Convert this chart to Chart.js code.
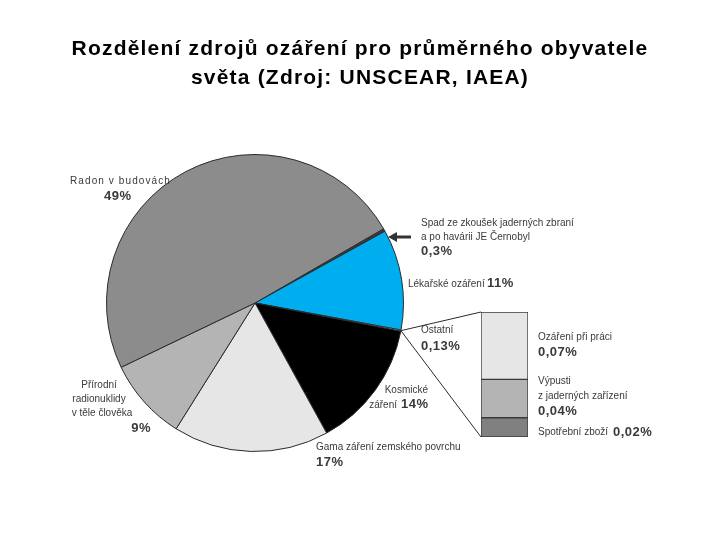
<!DOCTYPE html>
<html>
<head>
<meta charset="utf-8">
<script src="https://cdn.jsdelivr.net/npm/chart.js@4/dist/chart.umd.min.js"></script>
<style>
  html, body { margin: 0; padding: 0; background: #fff; }
  #wrap { position: relative; width: 720px; height: 540px; }
  canvas { position: absolute; left: 0; top: 0; }
</style>
</head>
<body>
<div id="wrap">
  <canvas id="pie" width="720" height="540"></canvas>
  <canvas id="bar" width="720" height="540"></canvas>
</div>
<script>
// ---- data ----
const titleLines = ['Rozdělení zdrojů ozáření pro průměrného obyvatele', 'světa (Zdroj: UNSCEAR, IAEA)'];

const pieCategories = [
  'Spad ze zkoušek jaderných zbraní a po havárii JE Černobyl',
  'Lékařské ozáření',
  'Ostatní',
  'Kosmické záření',
  'Gama záření zemského povrchu',
  'Přírodní radionuklidy v těle člověka',
  'Radon v budovách'
];
const pieValues = [0.3, 11, 0.13, 14, 17, 9, 49];
const pieValueLabels = ['0,3%', '11%', '0,13%', '14%', '17%', '9%', '49%'];

const otherCategories = ['Spotřební zboží', 'Výpusti z jaderných zařízení', 'Ozáření při práci'];
const otherValues = [0.02, 0.04, 0.07];
const otherValueLabels = ['0,02%', '0,04%', '0,07%'];

// ---- styles ----
const pieColors = ['#3c3c3c', '#00aeef', '#ffffff', '#000000', '#e6e6e6', '#b4b4b4', '#8c8c8c'];
const barColors = ['#808080', '#b4b4b4', '#e6e6e6'];
const smallFont = '10px "Liberation Sans", Arial, sans-serif';
const boldFont = 'bold 13px "Liberation Sans", Arial, sans-serif';
const textColor = '#3a3a3a';

// label layout: [lines of name], value label placement
const pieLabelLayout = [
  { lines: [['Spad ze zkoušek jaderných zbraní', 421, 223, 'left'], ['a po havárii JE Černobyl', 421, 237, 'left']], val: [421, 251, 'left'] },
  { lines: [['Lékařské ozáření', 408, 284, 'left']], val: [487, 283, 'left'] },
  { lines: [['Ostatní', 421, 330, 'left']], val: [421, 346, 'left'] },
  { lines: [['Kosmické', 428, 390, 'right'], ['záření', 397, 405, 'right']], val: [401, 404, 'left'] },
  { lines: [['Gama záření zemského povrchu', 316, 447, 'left']], val: [316, 462, 'left'] },
  { lines: [['Přírodní', 99, 385, 'center'], ['radionuklidy', 99, 399, 'center'], ['v těle člověka', 102, 413, 'center']], val: [151, 428, 'right'] },
  { lines: [['Radon v budovách', 70, 181, 'left']], val: [104, 196, 'left'], spacing: '1.1px' }
];
const barLabelLayout = [
  { lines: [['Spotřební zboží', 538, 432, 'left']], val: [613, 432, 'left'] },
  { lines: [['Výpusti', 538, 381, 'left'], ['z jaderných zařízení', 538, 396, 'left']], val: [538, 411, 'left'] },
  { lines: [['Ozáření při práci', 538, 337, 'left']], val: [538, 352, 'left'] }
];

function drawLabel(ctx, layout, valueText) {
  ctx.textBaseline = 'middle';
  ctx.fillStyle = textColor;
  ctx.font = smallFont;
  ctx.letterSpacing = layout.spacing || '0px';
  layout.lines.forEach(([t, x, y, a]) => { ctx.textAlign = a; ctx.fillText(t, x, y); });
  ctx.font = boldFont;
  ctx.letterSpacing = '0.5px';
  ctx.textAlign = layout.val[2];
  ctx.fillText(valueText, layout.val[0], layout.val[1]);
  ctx.letterSpacing = '0px';
}

const pieLabelsPlugin = {
  id: 'pieLabels',
  afterDraw(chart) {
    const ctx = chart.ctx;
    ctx.save();
    // title
    ctx.fillStyle = '#000';
    ctx.font = 'bold 21px "Liberation Sans", Arial, sans-serif';
    ctx.textAlign = 'center';
    ctx.textBaseline = 'alphabetic';
    ctx.letterSpacing = '1.2px';
    ctx.fillText(titleLines[0], 360, 55);
    ctx.fillText(titleLines[1], 360, 84);
    ctx.letterSpacing = '0px';
    pieLabelLayout.forEach((l, i) => drawLabel(ctx, l, pieValueLabels[i]));
    // arrow pointing at fallout slice
    ctx.strokeStyle = '#333';
    ctx.fillStyle = '#333';
    ctx.lineWidth = 3;
    ctx.beginPath();
    ctx.moveTo(411, 237);
    ctx.lineTo(395, 237);
    ctx.stroke();
    ctx.beginPath();
    ctx.moveTo(388, 237);
    ctx.lineTo(397, 232);
    ctx.lineTo(397, 242);
    ctx.closePath();
    ctx.fill();
    ctx.restore();
  }
};

const pieChart = new Chart(document.getElementById('pie'), {
  type: 'pie',
  data: {
    labels: pieCategories,
    datasets: [{
      data: pieValues,
      backgroundColor: pieColors,
      borderColor: '#2a2a2a',
      borderWidth: 1
    }]
  },
  options: {
    responsive: false,
    animation: false,
    rotation: 60,
    layout: { padding: { left: 106, top: 154, right: 316, bottom: 88 } },
    plugins: { legend: { display: false }, tooltip: { enabled: false }, title: { display: false } }
  },
  plugins: [pieLabelsPlugin]
});

const connectorPlugin = {
  id: 'connector',
  afterDatasetsDraw(chart) {
    const ctx = chart.ctx;
    const arc = pieChart.getDatasetMeta(0).data[2];
    const mid = (arc.startAngle + arc.endAngle) / 2;
    const px = arc.x + Math.cos(mid) * arc.outerRadius;
    const py = arc.y + Math.sin(mid) * arc.outerRadius;
    const topBar = chart.getDatasetMeta(otherValues.length - 1).data[0];
    const botBar = chart.getDatasetMeta(0).data[0];
    const left = topBar.x - topBar.width / 2;
    ctx.save();
    ctx.strokeStyle = '#2a2a2a';
    ctx.lineWidth = 1;
    ctx.beginPath();
    ctx.moveTo(px, py);
    ctx.lineTo(left, topBar.y);
    ctx.moveTo(px, py);
    ctx.lineTo(left, botBar.base);
    ctx.stroke();
    ctx.restore();
  },
  afterDraw(chart) {
    const ctx = chart.ctx;
    ctx.save();
    barLabelLayout.forEach((l, i) => drawLabel(ctx, l, otherValueLabels[i]));
    ctx.restore();
  }
};

new Chart(document.getElementById('bar'), {
  type: 'bar',
  data: {
    labels: [''],
    datasets: otherValues.map((v, i) => ({
      label: otherCategories[i],
      data: [v],
      backgroundColor: barColors[i],
      borderColor: '#3a3a3a',
      borderWidth: 1,
      borderSkipped: false,
      barPercentage: 1,
      categoryPercentage: 1
    }))
  },
  options: {
    responsive: false,
    animation: false,
    layout: { padding: { left: 481, right: 192, top: 312, bottom: 103 } },
    scales: {
      x: { display: false, stacked: true },
      y: { display: false, stacked: true, min: 0, max: 0.13 }
    },
    plugins: { legend: { display: false }, tooltip: { enabled: false }, title: { display: false } }
  },
  plugins: [connectorPlugin]
});
</script>
</body>
</html>
